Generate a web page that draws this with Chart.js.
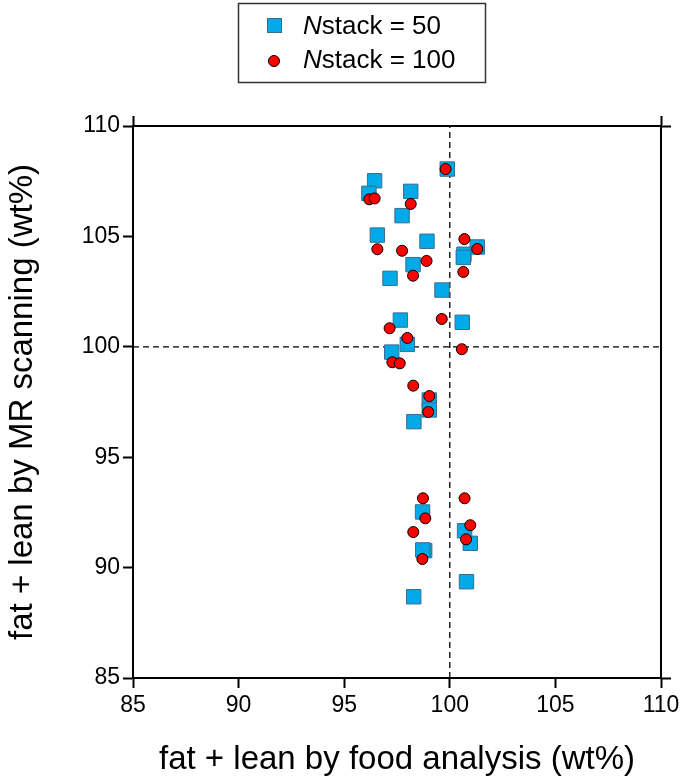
<!DOCTYPE html>
<html>
<head>
<meta charset="utf-8">
<script src="https://cdn.jsdelivr.net/npm/chart.js@4"></script>
<style>
  html, body { margin: 0; padding: 0; background: #fff; }
</style>
</head>
<body>
<canvas id="chart" width="685" height="782"></canvas>
<script>
"use strict";

// N stack = 50 (squares)
const stack50X = [99.88, 96.44, 96.17, 98.15, 97.74, 96.57, 98.92, 98.26, 97.17, 99.63, 101.3, 100.67, 100.64,
  97.66, 100.59, 97.99, 97.25, 99.03, 99.03, 98.3, 98.71, 100.7, 100.97, 98.81, 98.72, 100.79, 98.29];
const stack50Y = [108.05, 107.52, 106.95, 107.04, 105.94, 105.06, 104.78, 103.72, 103.1, 102.57, 104.52, 104.19, 104.05,
  101.21, 101.11, 100.11, 99.76, 97.59, 97.14, 96.61, 92.52, 91.67, 91.1, 90.77, 90.8, 89.36, 88.68];

// N stack = 100 (circles)
const stack100X = [99.8, 96.19, 96.44, 98.15, 96.57, 97.74, 98.9, 98.26, 100.69, 101.3, 100.64, 99.62, 97.15, 97.99,
  97.28, 97.63, 100.57, 98.27, 99.03, 98.98, 98.73, 100.7, 98.84, 98.27, 100.97, 100.77, 98.7];
const stack100Y = [108.05, 106.68, 106.72, 106.47, 104.42, 104.35, 103.89, 103.22, 104.88, 104.43, 103.39, 101.26, 100.84, 100.4,
  99.3, 99.25, 99.89, 98.24, 97.77, 97.05, 93.14, 93.14, 92.23, 91.61, 91.92, 91.28, 90.39];

const axisTicks = [85, 90, 95, 100, 105, 110];
const axisMin = 85;
const axisMax = 110;
const refValue = 100;
const seriesNames = ["stack = 50", "stack = 100"];
const xTitle = "fat + lean by food analysis (wt%)";
const yTitle = "fat + lean by MR scanning (wt%)";

const fontFamily = "'Liberation Sans', Arial, sans-serif";

function toPoints(xs, ys) {
  const pts = [];
  for (let i = 0; i < xs.length; i++) {
    pts.push({ x: xs[i], y: ys[i] });
  }
  return pts;
}

function setTicks(scale) {
  scale.ticks = axisTicks.map((v) => ({ value: v }));
}

// top/right frame only sticks out at the corners
function setEndTicks(scale) {
  scale.ticks = [{ value: axisMin }, { value: axisMax }];
}

// legend box drawn at the top, with italic N
const boxLegend = {
  id: "boxLegend",
  afterDraw(chart) {
    const ctx = chart.ctx;
    ctx.save();
    ctx.strokeStyle = "#333";
    ctx.lineWidth = 1.5;
    ctx.strokeRect(238.5, 3.5, 247, 79);

    // square marker
    ctx.fillStyle = "#00a9e8";
    ctx.strokeStyle = "#3d6d8c";
    ctx.lineWidth = 1;
    ctx.fillRect(267.5, 18.5, 14, 14);
    ctx.strokeRect(267.5, 18.5, 14, 14);

    // circle marker
    ctx.beginPath();
    ctx.arc(274, 61, 5.5, 0, Math.PI * 2);
    ctx.fillStyle = "#ff0000";
    ctx.fill();
    ctx.strokeStyle = "#000";
    ctx.stroke();

    ctx.fillStyle = "#000";
    ctx.textBaseline = "middle";
    const rows = [27, 61];
    for (let i = 0; i < seriesNames.length; i++) {
      ctx.font = "italic 26px " + fontFamily;
      ctx.fillText("N", 303, rows[i]);
      const w = ctx.measureText("N").width;
      ctx.font = "26px " + fontFamily;
      ctx.fillText(seriesNames[i], 303 + w, rows[i]);
    }
    ctx.restore();
  },
};

const hiddenAxis = {
  min: axisMin,
  max: axisMax,
  afterBuildTicks: setEndTicks,
  ticks: { display: false },
  grid: { drawOnChartArea: false, drawTicks: true, tickLength: 10, tickColor: "#000", tickWidth: 2 },
  border: { display: true, color: "#000", width: 2 },
};

const config = {
  type: "scatter",
  data: {
    datasets: [
      {
        label: "N" + seriesNames[0],
        data: toPoints(stack50X, stack50Y),
        pointStyle: "rect",
        pointRadius: 10.2,
        pointHoverRadius: 10.2,
        backgroundColor: "#00a9e8",
        borderColor: "#3d6d8c",
        borderWidth: 1,
        order: 2,
      },
      {
        label: "N" + seriesNames[1],
        data: toPoints(stack100X, stack100Y),
        pointStyle: "circle",
        pointRadius: 5.5,
        pointHoverRadius: 5.5,
        backgroundColor: "#ff0000",
        borderColor: "#000",
        borderWidth: 1,
        order: 1,
      },
      {
        label: "x ref",
        data: [{ x: refValue, y: axisMin }, { x: refValue, y: axisMax }],
        showLine: true,
        pointRadius: 0,
        borderColor: "#000",
        borderWidth: 1.3,
        borderDash: [6, 4],
        order: 3,
      },
      {
        label: "y ref",
        data: [{ x: axisMin, y: refValue }, { x: axisMax, y: refValue }],
        showLine: true,
        pointRadius: 0,
        borderColor: "#000",
        borderWidth: 1.3,
        borderDash: [6, 4],
        order: 3,
      },
    ],
  },
  options: {
    responsive: false,
    animation: false,
    layout: { padding: 0 },
    plugins: {
      legend: { display: false },
      tooltip: { enabled: false },
    },
    scales: {
      x: {
        position: "bottom",
        min: axisMin,
        max: axisMax,
        afterBuildTicks: setTicks,
        afterFit: (s) => { s.height = 104; },
        ticks: { color: "#000", font: { family: fontFamily, size: 23 }, padding: 4, maxRotation: 0 },
        grid: { drawOnChartArea: false, drawTicks: true, tickLength: 10, tickColor: "#000", tickWidth: 2 },
        border: { display: true, color: "#000", width: 2 },
        title: {
          display: true,
          text: xTitle,
          color: "#000",
          font: { family: fontFamily, size: 33 },
          padding: { top: 0, bottom: 2 },
        },
      },
      y: {
        position: "left",
        min: axisMin,
        max: axisMax,
        afterBuildTicks: setTicks,
        afterFit: (s) => { s.width = 133; },
        ticks: { color: "#000", font: { family: fontFamily, size: 23 }, padding: 3 },
        grid: { drawOnChartArea: false, drawTicks: true, tickLength: 10, tickColor: "#000", tickWidth: 2 },
        border: { display: true, color: "#000", width: 2 },
        title: {
          display: true,
          text: yTitle,
          color: "#000",
          font: { family: fontFamily, size: 33 },
          padding: { top: 3, bottom: 0 },
        },
      },
      x2: Object.assign({ position: "top", afterFit: (s) => { s.height = 126; } }, hiddenAxis),
      y2: Object.assign({ position: "right", afterFit: (s) => { s.width = 24; } }, hiddenAxis),
    },
  },
  plugins: [boxLegend],
};

const chartCanvas = document.getElementById("chart");
const myChart = new Chart(chartCanvas, config);
</script>
</body>
</html>
